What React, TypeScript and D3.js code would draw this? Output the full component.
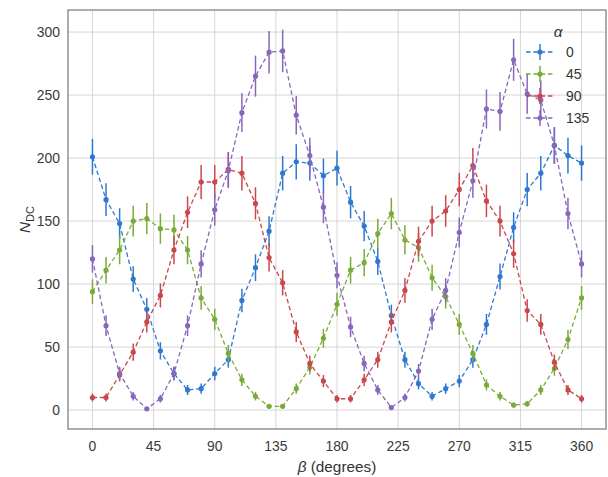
import React, { useEffect, useRef } from 'react'
import * as d3 from 'd3'

// beta angles (degrees)
const betas = [0, 10, 20, 30, 40, 50, 60, 70, 80, 90, 100, 110, 120, 130, 140, 150, 160, 170, 180,
  190, 200, 210, 220, 230, 240, 250, 260, 270, 280, 290, 300, 310, 320, 330, 340, 350, 360]

// counts per alpha
const alpha0 = [201, 167, 148, 104, 80, 47, 29, 16, 17, 29, 40, 87, 113, 142, 188, 197, 196, 186, 192,
  165, 146, 118, 75, 40, 21, 11, 17, 23, 40, 68, 106, 145, 175, 188, 210, 202, 196]
const alpha45 = [94, 111, 127, 150, 152, 144, 143, 127, 89, 72, 45, 24, 11, 3, 3, 17, 34, 57, 84,
  111, 117, 140, 156, 135, 129, 105, 90, 68, 45, 20, 11, 4, 5, 16, 33, 56, 89]
const alpha90 = [10, 10, 28, 46, 70, 91, 127, 157, 181, 181, 191, 188, 164, 121, 101, 62, 37, 23, 9,
  9, 24, 40, 70, 95, 134, 150, 158, 175, 194, 166, 150, 124, 79, 68, 38, 16, 9]
const alpha135 = [120, 67, 29, 11, 1, 9, 29, 67, 116, 159, 190, 236, 265, 284, 285, 234, 202, 161, 107,
  66, 37, 16, 2, 10, 31, 72, 95, 141, 182, 239, 237, 278, 251, 246, 210, 156, 116]

const alphas = ['0', '45', '90', '135']
const colors = ['#2f78d0', '#7aab3a', '#c9474d', '#8767bc']
const yTicks = [0, 50, 100, 150, 200, 250, 300]
const xTicks = [0, 45, 90, 135, 180, 225, 270, 315, 360]

const W = 608
const H = 477
const M = { left: 68, right: 2, top: 10, bottom: 48 }
const FONT = '"Liberation Sans", Arial, sans-serif'

const App = () => {
  const ref = useRef<SVGSVGElement>(null)

  useEffect(() => {
    const svg = d3.select(ref.current)
    svg.selectAll('*').remove()

    const x = d3.scaleLinear().domain([-18, 378]).range([M.left, W - M.right])
    const y = d3.scaleLinear().domain([-15, 317.5]).range([H - M.bottom, M.top])

    const g = svg.append('g')

    // grid
    g.selectAll('.gx').data(xTicks).enter().append('line')
      .attr('x1', d => x(d)).attr('x2', d => x(d))
      .attr('y1', M.top).attr('y2', H - M.bottom)
      .attr('stroke', '#d6d6d6').attr('stroke-width', 1)
    g.selectAll('.gy').data(yTicks).enter().append('line')
      .attr('x1', M.left).attr('x2', W - M.right)
      .attr('y1', d => y(d)).attr('y2', d => y(d))
      .attr('stroke', '#d6d6d6').attr('stroke-width', 1)

    // tick labels
    g.selectAll('.tx').data(xTicks).enter().append('text')
      .attr('x', d => x(d)).attr('y', H - M.bottom + 22)
      .attr('text-anchor', 'middle')
      .attr('font-family', FONT).attr('font-size', 13.9).attr('fill', '#3a3a3a')
      .text(d => d)
    g.selectAll('.ty').data(yTicks).enter().append('text')
      .attr('x', M.left - 8).attr('y', d => y(d) + 5)
      .attr('text-anchor', 'end')
      .attr('font-family', FONT).attr('font-size', 13.9).attr('fill', '#3a3a3a')
      .text(d => d)

    // axis labels
    const xl = g.append('text')
      .attr('x', (M.left + W - M.right) / 2).attr('y', H - 5)
      .attr('text-anchor', 'middle')
      .attr('font-family', FONT).attr('font-size', 15.3).attr('fill', '#333')
    xl.append('tspan').attr('font-style', 'italic').text('β')
    xl.append('tspan').text(' (degrees)')

    const yl = g.append('text')
      .attr('transform', `translate(30,${(M.top + H - M.bottom) / 2}) rotate(-90)`)
      .attr('text-anchor', 'middle')
      .attr('font-family', FONT).attr('font-size', 15.3).attr('fill', '#333')
    yl.append('tspan').attr('font-style', 'italic').text('N')
    yl.append('tspan').attr('font-size', 11).attr('dy', 4).text('DC')

    // series
    const all = [alpha0, alpha45, alpha90, alpha135]
    const line = d3.line<number>().x((d, i) => x(betas[i])).y(d => y(d))

    all.forEach((vals, si) => {
      const c = colors[si]
      const s = g.append('g')
      s.append('path')
        .attr('d', line(vals))
        .attr('fill', 'none').attr('stroke', c)
        .attr('stroke-width', 1.3).attr('stroke-dasharray', '4.5,2.8')
      s.selectAll('.eb').data(vals).enter().append('line')
        .attr('x1', (d, i) => x(betas[i])).attr('x2', (d, i) => x(betas[i]))
        .attr('y1', d => y(d - Math.sqrt(d))).attr('y2', d => y(d + Math.sqrt(d)))
        .attr('stroke', c).attr('stroke-width', 1.5)
      s.selectAll('circle').data(vals).enter().append('circle')
        .attr('cx', (d, i) => x(betas[i])).attr('cy', d => y(d))
        .attr('r', 2.6).attr('fill', c)
    })

    // legend
    const lg = g.append('g')
    lg.append('text')
      .attr('x', 558).attr('y', 37)
      .attr('text-anchor', 'middle').attr('font-style', 'italic')
      .attr('font-family', FONT).attr('font-size', 15.3).attr('fill', '#333')
      .text('α')
    alphas.forEach((a, i) => {
      const ly = 52 + i * 22
      const c = colors[i]
      lg.append('line').attr('x1', 526).attr('x2', 553).attr('y1', ly).attr('y2', ly)
        .attr('stroke', c).attr('stroke-width', 1.3).attr('stroke-dasharray', '4.5,2.8')
      lg.append('line').attr('x1', 540).attr('x2', 540).attr('y1', ly - 8).attr('y2', ly + 8)
        .attr('stroke', c).attr('stroke-width', 1.5)
      lg.append('circle').attr('cx', 540).attr('cy', ly).attr('r', 2.6).attr('fill', c)
      lg.append('text').attr('x', 566).attr('y', ly + 5)
        .attr('font-family', FONT).attr('font-size', 13.9).attr('fill', '#333')
        .text(a)
    })

    // frame
    g.append('rect')
      .attr('x', M.left).attr('y', M.top)
      .attr('width', W - M.right - M.left).attr('height', H - M.bottom - M.top)
      .attr('fill', 'none').attr('stroke', '#7d828b').attr('stroke-width', 1.3)
  })

  return (
    <svg ref={ref} width={W} height={H}
      style={{ position: 'absolute', left: 0, top: 0, background: '#fff' }}>
    </svg>
  )
}

export default App
